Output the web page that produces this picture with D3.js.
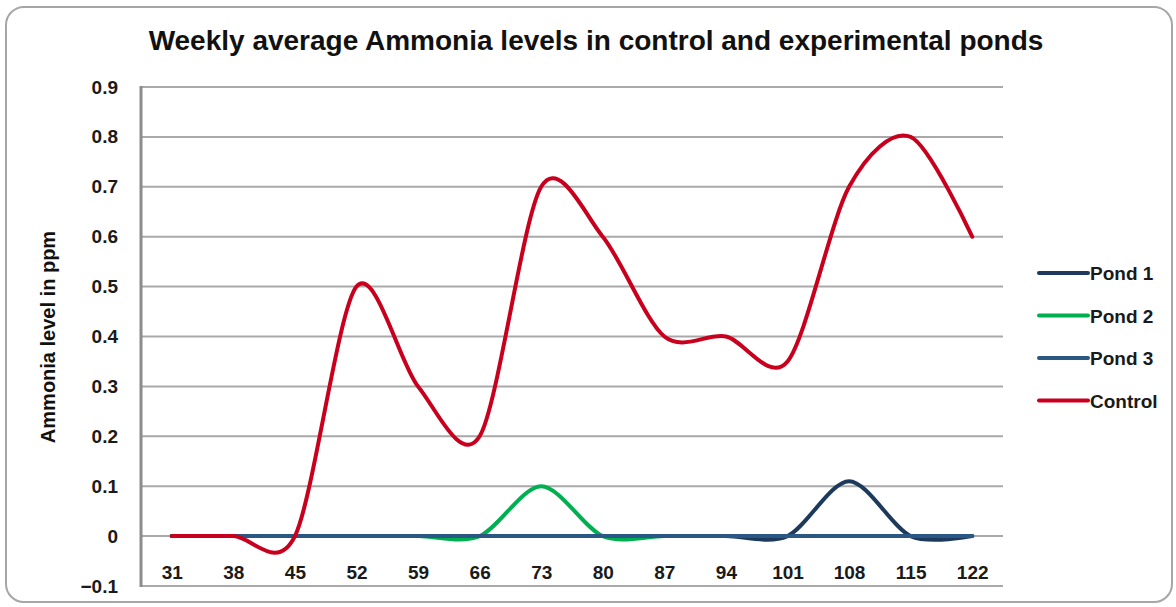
<!DOCTYPE html>
<html>
<head>
<meta charset="utf-8">
<script src="https://cdn.jsdelivr.net/npm/d3@7"></script>
<style>
	body { margin: 0; background: #fff; }
	svg { display: block; font-family: "Liberation Sans", Arial, sans-serif; }
</style>
</head>
<body>
<main></main>
<script>
// DATA
const days = [31, 38, 45, 52, 59, 66, 73, 80, 87, 94, 101, 108, 115, 122];
const pond1 = [0, 0, 0, 0, 0, 0, 0, 0, 0, 0, 0, 0.11, 0, 0];
const pond2 = [0, 0, 0, 0, 0, 0, 0.1, 0, 0, 0, 0, 0, 0, 0];
const pond3 = [0, 0, 0, 0, 0, 0, 0, 0, 0, 0, 0, 0, 0, 0];
const control = [0, 0, 0, 0.5, 0.3, 0.2, 0.7, 0.6, 0.4, 0.4, 0.35, 0.7, 0.8, 0.6];
const yTicks = [-0.1, 0, 0.1, 0.2, 0.3, 0.4, 0.5, 0.6, 0.7, 0.8, 0.9];
const seriesNames = ["Pond 1", "Pond 2", "Pond 3", "Control"];
const seriesColors = ["#1d3a5c", "#00b050", "#2a5784", "#c8001e"];

function visualizeData() {
	// dimension
	const w = 1176, h = 607;
	const left = 141, right = 1003, top = 87, bottom = 586;

	const svg = d3.select("main").append("svg").attr("width", w).attr("height", h);

	// frame
	svg.append("rect")
		.attr("x", 6).attr("y", 7).attr("width", 1166).attr("height", 595)
		.attr("rx", 18)
		.attr("fill", "#fff").attr("stroke", "#a6a6a6").attr("stroke-width", 2);

	// scales
	const xScale = d3.scalePoint().domain(days).range([left, right]).padding(0.5);
	const yScale = d3.scaleLinear().domain([-0.1, 0.9]).range([bottom, top]);

	// gridlines
	svg.append("g").selectAll("line").data(yTicks).enter().append("line")
		.attr("x1", left).attr("x2", right)
		.attr("y1", d => yScale(d)).attr("y2", d => yScale(d))
		.attr("stroke", "#a9a9a9").attr("stroke-width", 2);

	// y axis line
	svg.append("line")
		.attr("x1", left).attr("x2", left)
		.attr("y1", yScale(0.9) - 1).attr("y2", yScale(-0.1) + 1)
		.attr("stroke", "#8c8c8c").attr("stroke-width", 3);

	// axes
	const yAxis = d3.axisLeft(yScale).tickValues(yTicks).tickSize(0).tickPadding(23)
		.tickFormat(d => d === 0 ? "0" : d3.format(".1f")(d));
	const gy = svg.append("g").attr("transform", "translate(" + left + ",0)").call(yAxis);
	gy.select(".domain").remove();
	gy.selectAll("text").attr("font-size", 19).attr("font-weight", "bold").attr("fill", "#1a1a1a")
		.attr("font-family", "Liberation Sans, Arial, sans-serif");

	const xAxis = d3.axisBottom(xScale).tickSize(0).tickPadding(29);
	const gx = svg.append("g").attr("transform", "translate(0," + yScale(0) + ")").call(xAxis);
	gx.select(".domain").remove();
	gx.selectAll("text").attr("font-size", 19).attr("font-weight", "bold").attr("fill", "#1a1a1a")
		.attr("font-family", "Liberation Sans, Arial, sans-serif");

	// lines
	const allSeries = [pond1, pond2, pond3, control];
	const line = d3.line()
		.x((d, i) => xScale(days[i]))
		.y(d => yScale(d))
		.curve(d3.curveCardinal.tension(0.1));
	svg.append("g").selectAll("path").data(allSeries).enter().append("path")
		.attr("d", d => line(d))
		.attr("fill", "none")
		.attr("stroke", (d, i) => seriesColors[i])
		.attr("stroke-width", 4)
		.attr("stroke-linecap", "round")
		.attr("stroke-linejoin", "round");

	// title
	svg.append("text")
		.attr("x", 596).attr("y", 50)
		.attr("text-anchor", "middle")
		.attr("font-size", 28).attr("font-weight", "bold").attr("fill", "#111")
		.text("Weekly average Ammonia levels in control and experimental ponds");

	// y label
	svg.append("text")
		.attr("transform", "translate(55,337) rotate(-90)")
		.attr("text-anchor", "middle")
		.attr("font-size", 20).attr("font-weight", "bold").attr("fill", "#111")
		.text("Ammonia level in ppm");

	// legend
	const legend = svg.append("g").selectAll("g").data(seriesNames).enter().append("g")
		.attr("transform", (d, i) => "translate(1039," + (273 + i * 42.5) + ")");
	legend.append("line")
		.attr("x1", 0).attr("x2", 49).attr("y1", 0).attr("y2", 0)
		.attr("stroke", (d, i) => seriesColors[i]).attr("stroke-width", 4)
		.attr("stroke-linecap", "round");
	legend.append("text")
		.attr("x", 51).attr("y", 7)
		.attr("font-size", 19).attr("font-weight", "bold").attr("fill", "#1a1a1a")
		.text(d => d);
}

document.addEventListener('DOMContentLoaded', () => {
	visualizeData();
});
</script>
</body>
</html>
